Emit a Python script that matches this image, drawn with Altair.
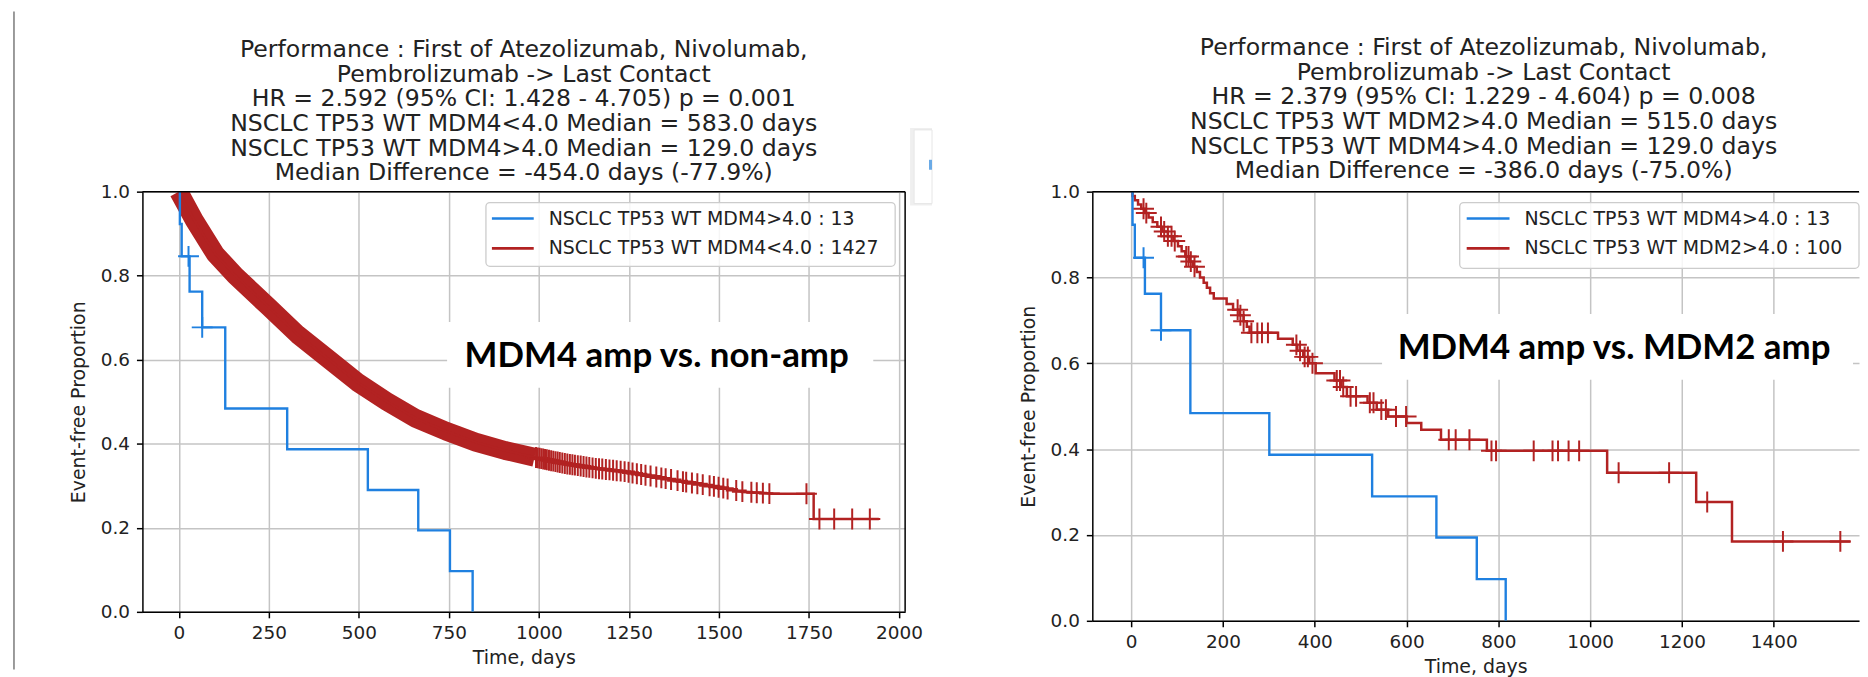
import bisect
import altair as alt
import numpy as np
import pandas as pd

FONT = "DejaVu Sans"
ANNOT_FONT = "Lato"
BLUE = "#1f80e0"
RED = "#b22222"
TXT = "#222222"

# ---------------- data ----------------
# MDM4 amplified (n = 13) : same curve in both panels
blue_t = [0, 3, 8, 30, 65, 129, 301, 525, 665, 753, 816]
blue_s = [1.000, 0.923, 0.846, 0.762, 0.677, 0.484, 0.387, 0.290, 0.194, 0.097, 0.000]
blue_cens_t = [27, 65]
blue_cens_s = [0.846, 0.677]

# Left panel: MDM4 non-amplified (n = 1427), centre of the dense curve
red1_t = [0, 43, 101, 157, 248, 330, 418, 495, 577, 659, 742, 824, 906, 988,
          1071, 1153, 1236, 1318, 1400, 1483, 1565, 1647, 1763, 1763, 1944]
red1_s = [1.000, 0.932, 0.852, 0.800, 0.727, 0.660, 0.600, 0.547, 0.501, 0.460,
          0.430, 0.404, 0.384, 0.368, 0.353, 0.342, 0.334, 0.322, 0.310, 0.299,
          0.286, 0.281, 0.281, 0.221, 0.221]
red1_dense_end = 988  # censor marks overlap into a solid band up to here
red1_cens_t = [992, 997, 1002, 1007, 1012, 1017, 1022, 1028, 1034, 1040, 1046,
               1052, 1058, 1065, 1072, 1079, 1086, 1093, 1100, 1108, 1116, 1124,
               1132, 1140, 1149, 1158, 1167, 1176, 1186, 1196, 1206, 1216, 1227,
               1238, 1249, 1260, 1272, 1284, 1296, 1310, 1326, 1340, 1352, 1367,
               1385, 1400, 1409, 1425, 1440, 1455, 1474, 1486, 1499, 1512, 1524,
               1548, 1565, 1590, 1605, 1622, 1640, 1743, 1779, 1820, 1870, 1919]

# Right panel: MDM2 amplified (n = 100)
red2_t = [0, 3, 8, 15, 22, 30, 38, 47, 57, 68, 80, 92, 102, 110, 118, 126, 135,
          143, 150, 158, 165, 172, 180, 208, 222, 236, 245, 252, 258, 320, 352,
          362, 375, 388, 402, 443, 458, 470, 515, 535, 560, 600, 632, 675, 775,
          1037, 1231, 1309, 1567]
red2_s = [1.000, 0.990, 0.980, 0.970, 0.960, 0.950, 0.940, 0.929, 0.918, 0.907,
          0.896, 0.885, 0.873, 0.861, 0.849, 0.837, 0.825, 0.813, 0.800, 0.788,
          0.776, 0.763, 0.751, 0.738, 0.725, 0.712, 0.698, 0.685, 0.671, 0.657,
          0.643, 0.629, 0.615, 0.600, 0.577, 0.560, 0.545, 0.523, 0.508, 0.492,
          0.476, 0.461, 0.445, 0.422, 0.396, 0.345, 0.277, 0.185, 0.185]
red2_cens_t = [27, 33, 65, 72, 80, 88, 95, 120, 125, 130, 138, 232, 238, 245, 262,
               275, 285, 298, 360, 368, 378, 385, 395, 448, 455, 462, 478, 490,
               520, 528, 545, 555, 577, 599, 692, 707, 737, 785, 795, 877, 918,
               930, 953, 976, 1062, 1172, 1255, 1420, 1545]

left_xticks = [0, 250, 500, 750, 1000, 1250, 1500, 1750, 2000]
right_xticks = [0, 200, 400, 600, 800, 1000, 1200, 1400]
yticks = [0.0, 0.2, 0.4, 0.6, 0.8, 1.0]

title_left = [
    "Performance : First of Atezolizumab, Nivolumab,",
    "Pembrolizumab -> Last Contact",
    "HR = 2.592 (95% CI: 1.428 - 4.705) p = 0.001",
    "NSCLC TP53 WT MDM4<4.0 Median = 583.0 days",
    "NSCLC TP53 WT MDM4>4.0 Median = 129.0 days",
    "Median Difference = -454.0 days (-77.9%)",
]
title_right = [
    "Performance : First of Atezolizumab, Nivolumab,",
    "Pembrolizumab -> Last Contact",
    "HR = 2.379 (95% CI: 1.229 - 4.604) p = 0.008",
    "NSCLC TP53 WT MDM2>4.0 Median = 515.0 days",
    "NSCLC TP53 WT MDM4>4.0 Median = 129.0 days",
    "Median Difference = -386.0 days (-75.0%)",
]
legend_left = ["NSCLC TP53 WT MDM4>4.0 : 13", "NSCLC TP53 WT MDM4<4.0 : 1427"]
legend_right = ["NSCLC TP53 WT MDM4>4.0 : 13", "NSCLC TP53 WT MDM2>4.0 : 100"]
annot_left = "MDM4 amp vs. non-amp"
annot_right = "MDM4 amp vs. MDM2 amp"


# ---------------- helpers ----------------
def frame(ts, ss):
    return pd.DataFrame({"t": ts, "s": ss, "o": list(range(len(ts)))})


def step_at(ts, ss, t):
    i = bisect.bisect_right(ts, t) - 1
    return ss[max(i, 0)]


ONE = pd.DataFrame({"k": [0]})
CROSS = "M-1,0H1M0,-1V1"


def deco_rule(x, y, x2=None, y2=None, color="black", width=1.5, opacity=1.0):
    enc = {"x": alt.value(x), "y": alt.value(y)}
    if x2 is not None:
        enc["x2"] = alt.value(x2)
    if y2 is not None:
        enc["y2"] = alt.value(y2)
    return alt.Chart(ONE).mark_rule(color=color, strokeWidth=width,
                                    strokeOpacity=opacity).encode(**enc)


def deco_rect(x, x2, y, y2, **kw):
    return alt.Chart(ONE).mark_rect(**kw).encode(
        x=alt.value(x), x2=alt.value(x2), y=alt.value(y), y2=alt.value(y2))


def deco_text(txt, x, y, **kw):
    return alt.Chart(ONE).mark_text(text=txt, **kw).encode(
        x=alt.value(x), y=alt.value(y))


def panel(W, H, xdom, xticks, red_layers, title_lines, title_x, title_y,
          legend_labels, leg, annot, ann, extra):
    X = alt.X("t:Q", scale=alt.Scale(domain=xdom, nice=False, zero=False),
              axis=alt.Axis(values=xticks, format="d", title="Time, days"))
    Y = alt.Y("s:Q", scale=alt.Scale(domain=[0, 1], nice=False, zero=False),
              axis=alt.Axis(values=yticks, format=".1f",
                            title="Event-free Proportion"))
    layers = []
    for lay in red_layers:
        layers.append(lay.encode(x=X, y=Y))
    layers.append(alt.Chart(frame(blue_t, blue_s)).mark_line(
        interpolate="step-after", color=BLUE, strokeWidth=2.4, clip=True
    ).encode(x=X, y=Y, order="o:Q"))
    layers.append(alt.Chart(pd.DataFrame({"t": blue_cens_t, "s": blue_cens_s}))
                  .mark_point(shape=CROSS, size=441, filled=False, strokeWidth=2,
                              color=BLUE, opacity=1, clip=True)
                  .encode(x=X, y=Y))
    # annotation label pasted on a white box
    bx0, bx1, by0, by1, tx, ty = ann
    layers.append(deco_rect(bx0, bx1, by0, by1, color="white"))
    layers.append(deco_text(annot, tx, ty, font=ANNOT_FONT, fontSize=35,
                            fontWeight="bold", color="black", align="center",
                            baseline="middle"))
    # legend
    lx0, lx1, ly0, ly1, sx0, sx1, r1, r2, labx = leg
    layers.append(deco_rect(lx0, lx1, ly0, ly1, fill="white", fillOpacity=0.85,
                            stroke="#cccccc", strokeWidth=1.3, cornerRadius=4))
    layers.append(deco_rule(sx0, r1, x2=sx1, color=BLUE, width=2.6))
    layers.append(deco_rule(sx0, r2, x2=sx1, color=RED, width=2.6))
    layers.append(deco_text(legend_labels[0], labx, r1, font=FONT, fontSize=19,
                            color=TXT, align="left", baseline="middle"))
    layers.append(deco_text(legend_labels[1], labx, r2, font=FONT, fontSize=19,
                            color=TXT, align="left", baseline="middle"))
    # title block (first line centred at title_y, following lines below)
    layers.append(deco_text(title_lines, title_x, title_y, font=FONT,
                            fontSize=23.7, lineHeight=24.7, color=TXT,
                            align="center", baseline="middle"))
    # top spine
    layers.append(deco_rule(0, 0, x2=W, color="black", width=1.5))
    layers.extend(extra)
    return alt.layer(*layers).properties(width=W, height=H)


# ---------------- left panel ----------------
WL, HL = 766, 422
r1 = frame(red1_t, red1_s)
band = r1[r1["t"] <= red1_dense_end]
r1c = pd.DataFrame({"t": red1_cens_t,
                    "s": np.interp(red1_cens_t, red1_t, red1_s)})
red_left = [
    alt.Chart(band).mark_line(color=RED, strokeWidth=19, strokeCap="butt",
                              strokeJoin="round", clip=True),
    alt.Chart(r1).mark_line(color=RED, strokeWidth=2.5, clip=True),
    alt.Chart(r1c).mark_point(shape=CROSS, size=441, filled=False, strokeWidth=2,
                              color=RED, opacity=1, clip=True),
]
extra_left = [
    deco_rule(WL, 0, y2=HL, color="black", width=1.5),           # right spine
    deco_rule(-129, -181, y2=480, color="#7a7a7a", width=1.5),   # page edge line
    deco_rect(771, 793, -64, 14, color="#efefef"),               # popup shadow
    deco_rect(775, 793, -62, 12, fill="white", stroke="#e6e6e6", strokeWidth=1),
    deco_rect(790, 793, -32, -22, color="#6aaae6"),
]
left = panel(WL, HL, [-101, 2017], left_xticks, red_left,
             title_left, 383, -142, legend_left,
             (345, 756, 11, 75, 351, 393, 27, 57, 408), annot_left,
             (306, 734, 131, 197, 516.5, 165), extra_left)

# ---------------- right panel ----------------
WR, HR = 770, 431
r2 = frame(red2_t, red2_s)
r2c = pd.DataFrame({"t": red2_cens_t,
                    "s": [step_at(red2_t, red2_s, t) for t in red2_cens_t]})
red_right = [
    alt.Chart(r2).mark_line(interpolate="step-after", color=RED, strokeWidth=2.5,
                            clip=True),
    alt.Chart(r2c).mark_point(shape=CROSS, size=441, filled=False, strokeWidth=2,
                              color=RED, opacity=1, clip=True),
]
extra_right = [
    deco_rule(100, -183, y2=0, color="white", width=1, opacity=0.0),
]
right = panel(WR, HR, [-84.6, 1585.7], right_xticks, red_right,
              title_right, 393, -144, legend_right,
              (369, 770, 11, 77, 376, 419, 27, 57, 434), annot_right,
              (291, 764, 123, 189, 524, 157), extra_right)

chart = alt.hconcat(left, right, spacing=86).properties(
    padding={"left": 5, "top": 0, "right": 0, "bottom": 0},
    background="white",
).configure_view(stroke=None).configure_axis(
    domainColor="black", domainWidth=1.5, tickColor="black", tickWidth=1.5,
    tickSize=6, gridColor="#c4c4c4", gridWidth=1.5, labelFont=FONT,
    labelFontSize=18.5, labelColor=TXT, titleFont=FONT, titleFontSize=19,
    titleFontWeight="normal", titleColor=TXT, labelFlush=False,
    labelOverlap=False,
).configure_axisX(labelPadding=5.5, titlePadding=7).configure_axisY(
    labelPadding=7, titlePadding=12)

chart.save("out.html", embed_options={"renderer": "svg", "actions": False})
